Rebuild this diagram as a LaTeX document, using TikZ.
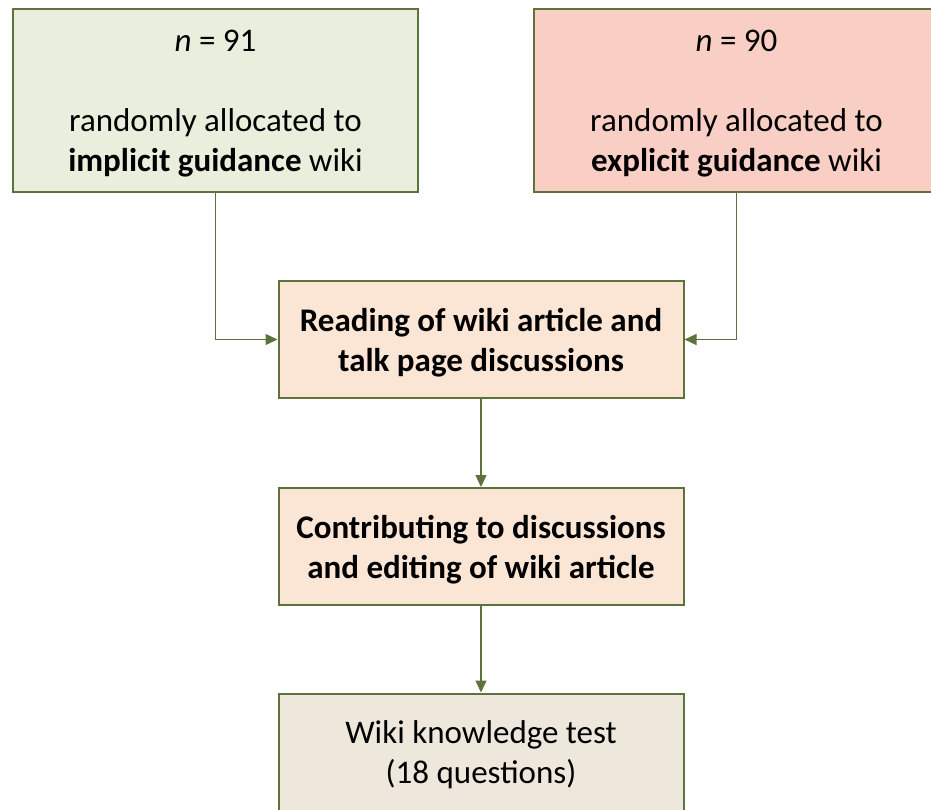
\documentclass[tikz,border=0pt]{standalone}
\usepackage{fontspec}
\setmainfont{Carlito}
\usetikzlibrary{arrows.meta}
\definecolor{bordercol}{RGB}{94,115,60}
\definecolor{greenfill}{RGB}{234,239,221}
\definecolor{redfill}{RGB}{249,206,196}
\definecolor{orangefill}{RGB}{251,229,213}
\definecolor{greyfill}{RGB}{238,231,220}
\tikzset{
  box/.style={draw=bordercol, line width=2pt, minimum width=405pt, inner sep=0pt},
  topbox/.style={box, minimum height=183pt},
  midbox/.style={box, minimum height=117pt},
  txt/.style={align=center, inner sep=0pt, font=\fontsize{33}{40}\selectfont, text=black},
  boldtxt/.style={txt, font=\fontsize{33}{40}\selectfont\bfseries},
  conn/.style={draw=bordercol, line width=1.3pt, -{Triangle[length=12pt,width=11pt]}}
}
\begin{document}
\begin{tikzpicture}[x=1pt,y=-1pt]
\useasboundingbox (0,0) rectangle (931,809);
\clip (0,0) rectangle (931,809);
\fill[white] (0,0) rectangle (931,809);
\node[topbox, fill=greenfill] (b1) at (215.5,100.5) {};
\node[topbox, fill=redfill] (b2) at (736.5,100.5) {};
\node[midbox, fill=orangefill] (m1) at (481,339.5) {};
\node[midbox, fill=orangefill] (m2) at (481,546.5) {};
\node[midbox, fill=greyfill] (b3) at (481,752) {};
\node[txt] (t1) at ([yshift=-3pt]b1.center)
  {\textit{n} = 91\\[40pt]randomly allocated to\\\textbf{implicit guidance} wiki};
\node[txt] (t2) at ([yshift=-3pt]b2.center)
  {\textit{n} = 90\\[40pt]randomly allocated to\\\textbf{explicit guidance} wiki};
\node[boldtxt] (tm1) at ([yshift=-3pt]m1.center)
  {Reading of wiki article and\\talk page discussions};
\node[boldtxt] (tm2) at ([yshift=-3pt]m2.center)
  {Contributing to discussions\\and editing of wiki article};
\node[txt] (t3) at ([yshift=-3pt]b3.center)
  {Wiki knowledge test\\(18 questions)};
\draw[conn] (b1.south) |- (m1.west);
\draw[conn] (b2.south) |- (m1.east);
\draw[conn] (m1.south) -- (m2.north);
\draw[conn] (m2.south) -- (b3.north);
\end{tikzpicture}
\end{document}
